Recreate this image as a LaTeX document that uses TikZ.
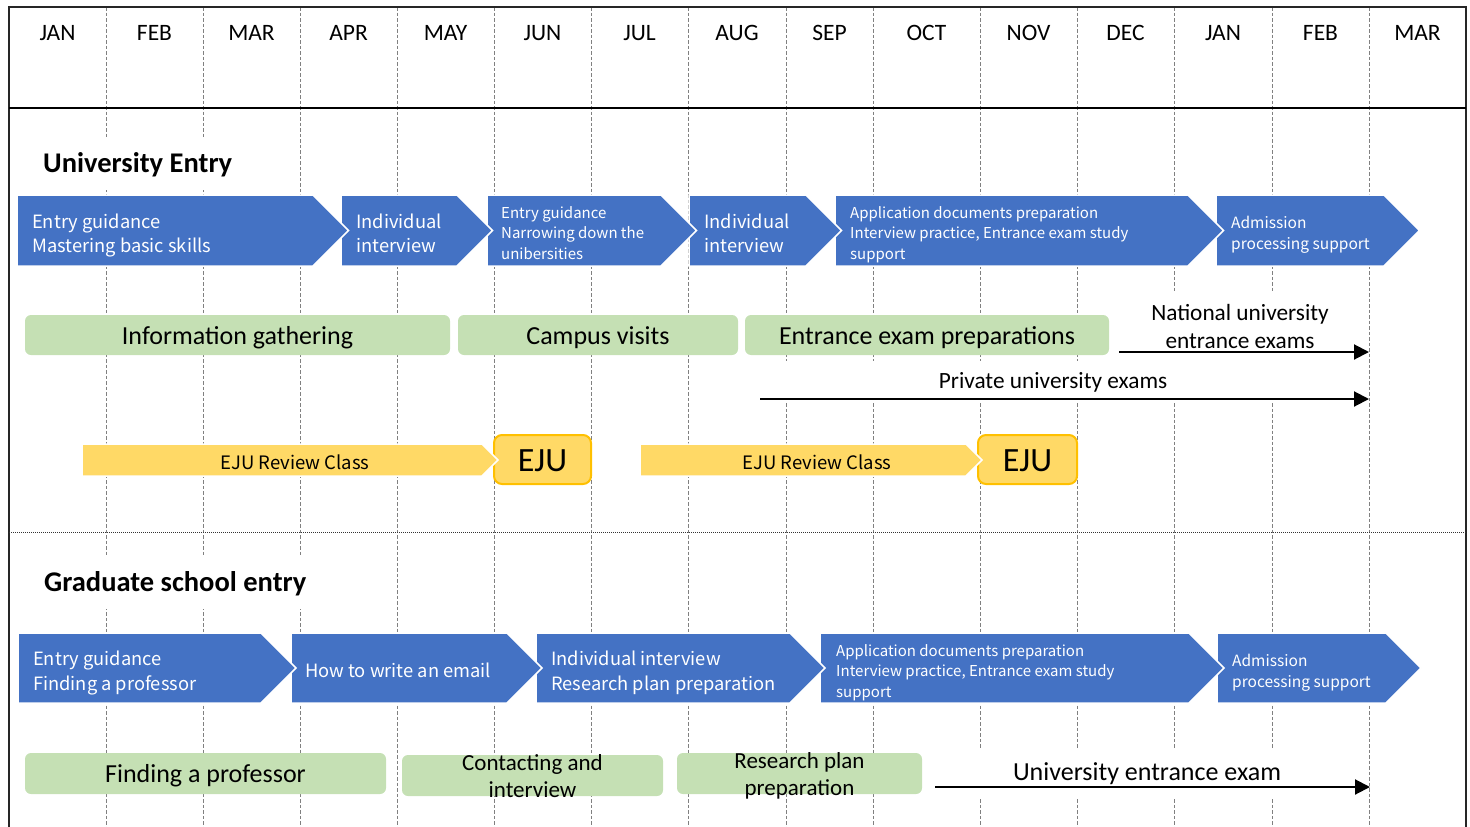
\documentclass[tikz,border=0pt]{standalone}
\usepackage{fontspec}
\setmainfont{Carlito}
\newfontfamily\gothic{Noto Sans CJK JP}
\usetikzlibrary{arrows.meta}
\definecolor{chevblue}{HTML}{4472C4}
\definecolor{ejufill}{HTML}{FFD966}
\definecolor{ejuedge}{HTML}{FFC000}
\definecolor{gboxcol}{HTML}{C5E0B4}
\newcommand{\mylines}[2][l]{\begin{tabular}[t]{@{}#1@{}}#2\end{tabular}}
\newcommand{\drawchev}[5]{\path[#1] (#2,#4) -- (#3,#4) -- ({#3+(#5-#4)/2},{(#4+#5)/2}) -- (#3,#5) -- (#2,#5) -- cycle;}
\tikzset{
  gridline/.style={black!50, line width=0.8pt, dash pattern=on 3.5pt off 2pt},
  frameline/.style={black!85, line width=1.2pt},
  month/.style={anchor=base, inner sep=0pt, font=\fontsize{23.5}{28}\selectfont},
  sectitle/.style={anchor=base west, fill=white, inner xsep=15pt, inner ysep=14pt, font=\bfseries\fontsize{28.5}{34}\selectfont},
  note/.style={anchor=base, fill=white, font=\fontsize{23.3}{28}\selectfont},
  bluechev/.style={fill=chevblue, draw=white, line width=1.5pt},
  yellowchev/.style={fill=ejufill, draw=white, line width=1.5pt},
  chevtext/.style={text=white, inner sep=0pt, anchor=base west, font=\gothic\fontsize{18.3}{24}\selectfont},
  chevlow/.style={chevtext, font=\gothic\fontsize{18.3}{25}\selectfont},
  chevsmall/.style={chevtext, font=\gothic\fontsize{15}{20.5}\selectfont},
  chevadm/.style={chevtext, font=\gothic\fontsize{15.5}{21}\selectfont},
  gbox/.style={fill=gboxcol, rounded corners=6pt, inner sep=0pt, font=\fontsize{26}{31}\selectfont, text height=19pt, text depth=1pt},
  gboxtwo/.style={gbox, font=\fontsize{23}{27}\selectfont, text height=10pt, text depth=21pt},
  ejubox/.style={fill=ejufill, draw=ejuedge, line width=2pt, rounded corners=8pt, inner sep=0pt, minimum width=97pt, minimum height=49pt, font=\fontsize{34}{40}\selectfont, text height=23pt, text depth=0pt},
  ejutext/.style={anchor=base, inner sep=0pt, font=\gothic\fontsize{18.5}{22}\selectfont},
  timearrow/.style={line width=2pt, -{Triangle[length=15pt,width=15pt]}}
}
\begin{document}
\begin{tikzpicture}[x=1pt,y=-1pt]
\useasboundingbox (0,0) rectangle (1470,827);
% grid
\foreach \gx in {106,203,300,397,494,591,688,786,873,980,1077,1174,1272,1369}
  \draw[gridline] (\gx,7) -- (\gx,827);
\draw[frameline] (9,827) -- (9,7) -- (1466,7) -- (1466,827);
\draw[line width=1.2pt] (9,108) -- (1466,108);
\draw[black!80, line width=0.7pt, dash pattern=on 1pt off 1pt] (9,532) -- (1466,532);
% months
\foreach \mx/\mt [count=\i] in {57.5/JAN,154.5/FEB,251.5/MAR,348.5/APR,445.5/MAY,542.5/JUN,639.5/JUL,737/AUG,829.5/SEP,926.5/OCT,1028.5/NOV,1125.5/DEC,1223/JAN,1320.5/FEB,1417.5/MAR}
  \node[month] (m\i) at (\mx,40) {\mt};
% titles
\node[sectitle] (uetitle) at (28,172) {University Entry};
\node[sectitle] (gstitle) at (29,591) {Graduate school entry};
% notes with white backgrounds
\node[note, inner xsep=37pt, inner ysep=8pt] (natl) at (1240,320) {\mylines[c]{National university\\entrance exams}};
\node[note, inner xsep=178pt, inner ysep=11pt] (priv) at (1053,388) {Private university exams};
\node[note, font=\fontsize{26}{31}\selectfont, inner xsep=76pt, inner ysep=14pt] (uexam) at (1147,780) {University entrance exam};
% green boxes
\node[gbox, minimum width=425pt, minimum height=40pt] (info) at (237.5,335) {Information gathering};
\node[gbox, minimum width=280pt, minimum height=40pt] (campus) at (598,335) {Campus visits};
\node[gbox, minimum width=364pt, minimum height=40pt] (prep) at (927,335) {Entrance exam preparations};
\node[gbox, minimum width=361pt, minimum height=41pt] (findprof) at (205.5,773.5) {Finding a professor};
\node[gboxtwo, minimum width=261pt, minimum height=41pt] (contact) at (532.5,775.5) {\mylines[c]{Contacting and\\interview}};
\node[gboxtwo, minimum width=245pt, minimum height=41pt] (rplan) at (799.5,773.5) {\mylines[c]{Research plan\\preparation}};
% blue chevrons, upper row (right to left)
\drawchev{bluechev}{1216}{1384}{195}{266}
\drawchev{bluechev}{835}{1188}{195}{266}
\drawchev{bluechev}{689}{806}{195}{266}
\drawchev{bluechev}{487}{661}{195}{266}
\drawchev{bluechev}{341}{457}{195}{266}
\drawchev{bluechev}{17}{313}{195}{266}
\node[chevtext] (u1) at (32,228) {\mylines{Entry guidance\\Mastering basic skills}};
\node[chevtext] (u2) at (356,228) {\mylines{Individual\\interview}};
\node[chevsmall] (u3) at (501,218) {\mylines{Entry guidance\\Narrowing down the\\unibersities}};
\node[chevtext] (u4) at (704,228) {\mylines{Individual\\interview}};
\node[chevsmall] (u5) at (850,218) {\mylines{Application documents preparation\\Interview practice, Entrance exam study\\support}};
\node[chevadm] (u6) at (1231,228) {\mylines{Admission\\processing support}};
% blue chevrons, lower row
\drawchev{bluechev}{1217}{1386}{633}{703}
\drawchev{bluechev}{820}{1189}{633}{703}
\drawchev{bluechev}{536}{790}{633}{703}
\drawchev{bluechev}{291}{507}{633}{703}
\drawchev{bluechev}{18}{261}{633}{703}
\node[chevlow] (g1) at (33,665) {\mylines{Entry guidance\\Finding a professor}};
\node[chevlow] (g2) at (305,677) {How to write an email};
\node[chevlow] (g3) at (551,665) {\mylines{Individual interview\\Research plan preparation}};
\node[chevsmall] (g4) at (836,656) {\mylines{Application documents preparation\\Interview practice, Entrance exam study\\support}};
\node[chevadm] (g5) at (1232,666) {\mylines{Admission\\processing support}};
% EJU
\node[ejubox] (eju1) at (542.5,459.5) {EJU};
\node[ejubox, minimum width=99pt] (eju2) at (1027.5,459.5) {EJU};
\drawchev{yellowchev}{82}{482}{444}{476}
\drawchev{yellowchev}{640}{966}{444}{476}
\node[ejutext] (rev1) at (295,469) {EJU Review Class};
\node[ejutext] (rev2) at (817,469) {EJU Review Class};
% time arrows
\coordinate (natA) at (1119,352);
\coordinate (natB) at (1369,352);
\coordinate (privA) at (760,399);
\coordinate (privB) at (1369,399);
\coordinate (uexA) at (935,787);
\coordinate (uexB) at (1370,787);
\draw[timearrow] (natA) -- (natB);
\draw[timearrow] (privA) -- (privB);
\draw[timearrow] (uexA) -- (uexB);
\end{tikzpicture}
\end{document}
